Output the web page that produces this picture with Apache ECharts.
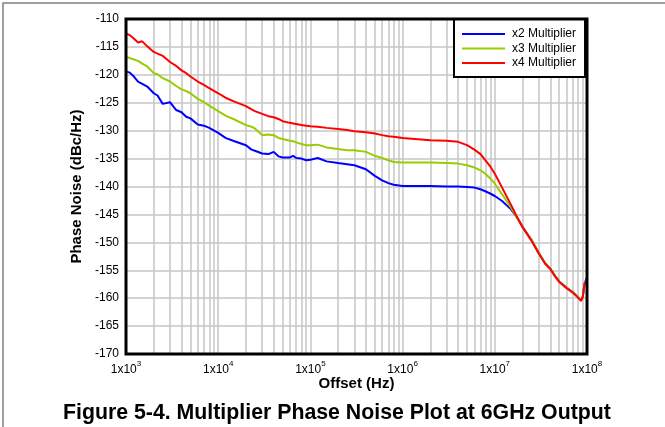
<!DOCTYPE html>
<html>
<head>
<meta charset="utf-8">
<script src="https://cdn.jsdelivr.net/npm/echarts@6/dist/echarts.min.js"></script>
<style>html,body{margin:0;padding:0;background:#fff}#main{width:665px;height:427px}</style>
</head>
<body>
<div id="main"></div>
<script>
// offset frequencies (Hz), shared by the three traces
var freqs = [1000, 1100, 1200, 1350, 1500, 1700, 2000, 2200, 2500, 3000, 3500, 4000, 4500, 5000, 6000, 7000, 8000,
  10000, 12000, 15000, 20000, 23000, 25000, 30000, 35000, 40000, 45000, 50000, 60000, 65000, 70000, 80000, 90000,
  100000, 120000, 150000, 200000, 250000, 300000, 400000, 500000, 600000, 700000, 800000,
  1e6, 2e6, 3e6, 4e6, 5e6, 6e6, 7e6, 8e6, 9e6,
  1e7, 1.2e7, 1.5e7, 1.7e7, 2e7, 2.5e7, 3e7, 3.5e7, 4e7, 4.5e7, 5e7, 6e7, 7e7, 8e7, 8.6e7, 9e7, 9.4e7, 1e8];

var x2Noise = [-119.4, -119.6, -120.2, -121.2, -121.6, -122.1, -123.3, -123.7, -125.2, -124.9, -126.3, -126.7, -127.5, -127.8, -128.9, -129.1, -129.5,
  -130.4, -131.3, -131.9, -132.6, -133.4, -133.6, -134.1, -134.2, -133.8, -134.6, -134.8, -134.8, -134.5, -134.9, -135.0, -135.3,
  -135.2, -134.9, -135.5, -135.8, -136.0, -136.2, -136.9, -138.1, -138.9, -139.4, -139.7,
  -139.9, -139.9, -140.0, -140.0, -140.1, -140.2, -140.5, -140.9, -141.3,
  -141.7, -142.6, -144.1, -145.3, -147.2, -149.6, -151.9, -153.7, -154.7, -156.0, -157.0, -158.1, -158.9, -159.8, -160.4, -159.7, -157.4, -156.3];

var x3Noise = [-116.8, -117.0, -117.2, -117.5, -118.0, -118.5, -119.7, -119.9, -120.6, -121.2, -122.0, -122.6, -122.9, -123.3, -124.3, -124.9, -125.5,
  -126.5, -127.3, -128.0, -129.0, -129.3, -129.6, -130.8, -130.7, -130.8, -131.3, -131.5, -131.8, -131.9, -132.1, -132.4, -132.6,
  -132.6, -132.5, -133.0, -133.3, -133.5, -133.5, -133.8, -134.5, -134.9, -135.3, -135.6,
  -135.7, -135.7, -135.8, -135.9, -136.2, -136.6, -137.1, -137.8, -138.6,
  -139.5, -141.4, -143.8, -145.3, -147.3, -149.6, -151.9, -153.7, -154.7, -156.0, -157.0, -158.1, -158.9, -159.8, -160.4, -159.7, -157.4, -156.8];

var x4Noise = [-112.6, -112.9, -113.4, -114.2, -114.0, -114.9, -115.9, -116.2, -116.6, -117.7, -118.4, -119.2, -119.7, -120.3, -121.2, -121.8, -122.4,
  -123.3, -124.1, -124.8, -125.6, -126.2, -126.5, -127.0, -127.4, -127.6, -127.9, -128.3, -128.6, -128.7, -128.8, -129.0, -129.1,
  -129.2, -129.3, -129.5, -129.7, -129.9, -130.1, -130.3, -130.5, -130.8, -131.0, -131.1,
  -131.3, -131.7, -131.8, -132.0, -132.6, -133.4, -134.2, -135.4, -136.5,
  -137.7, -140.2, -143.3, -145.1, -147.3, -149.7, -152.0, -153.8, -154.8, -156.1, -157.1, -158.2, -159.0, -159.9, -160.5, -159.8, -157.5, -156.9];

var seriesNames = ['x2 Multiplier', 'x3 Multiplier', 'x4 Multiplier'];
var seriesColors = ['#0000ff', '#99cc00', '#ff0000'];
var seriesValues = [x2Noise, x3Noise, x4Noise];

var yMin = -170, yMax = -110, yStep = 5;
var xMin = 1e3, xMax = 1e8;

// log grid lines between the decades
var minorLines = [];
for (var d = 3; d < 8; d++) {
  for (var m = 2; m <= 9; m++) minorLines.push({ xAxis: m * Math.pow(10, d) });
}

var font = '"Liberation Sans", Arial, sans-serif';
var gridGray = '#c6c6c6';

var myChart = echarts.init(document.getElementById('main'));

var series = [{
  name: 'minor',
  type: 'line',
  data: [],
  z: 1,
  silent: true,
  markLine: {
    silent: true,
    z: 1,
    symbol: ['none', 'none'],
    label: { show: false },
    lineStyle: { color: gridGray, width: 1.5, type: 'solid' },
    emphasis: { disabled: true },
    animation: false,
    data: minorLines
  }
}];
for (var i = 0; i < seriesNames.length; i++) {
  series.push({
    name: seriesNames[i],
    type: 'line',
    symbol: 'none',
    color: seriesColors[i],
    lineStyle: { width: 2, color: seriesColors[i] },
    z: 2,
    data: freqs.map(function (f, k) { return [f, this[k]]; }, seriesValues[i])
  });
}

option = {
  animation: false,
  textStyle: { fontFamily: font },
  title: {
    text: 'Figure 5-4. Multiplier Phase Noise Plot at 6GHz Output',
    left: 63,
    top: 403,
    padding: 0,
    textStyle: { fontSize: 21.3, fontWeight: 'bold', color: '#000', fontFamily: font }
  },
  graphic: [{
    type: 'polyline',
    silent: true,
    shape: { points: [[3, 427], [3, 3], [665, 3]] },
    style: { stroke: '#808080', lineWidth: 1.5, fill: null }
  }],
  legend: {
    data: seriesNames,
    orient: 'vertical',
    left: 454,
    top: 19,
    padding: [8, 9, 7, 8],
    itemWidth: 43,
    itemHeight: 2,
    itemGap: 0.5,
    icon: 'rect',
    backgroundColor: '#fff',
    borderColor: '#000',
    borderWidth: 2,
    borderRadius: 0,
    textStyle: { fontSize: 12, color: '#000', lineHeight: 14, fontFamily: font, padding: [0, 0, 0, 2] }
  },
  grid: {
    show: true,
    left: 126,
    right: 78,
    top: 19,
    bottom: 73,
    borderColor: '#000',
    borderWidth: 3,
    backgroundColor: 'transparent',
    z: 10
  },
  xAxis: {
    type: 'log',
    logBase: 10,
    min: xMin,
    max: xMax,
    name: 'Offset (Hz)',
    nameLocation: 'middle',
    nameGap: 22,
    nameMoveOverlap: false,
    nameTextStyle: { fontSize: 15, fontWeight: 'bold', color: '#000', fontFamily: font },
    axisLine: { show: false },
    axisTick: { show: false },
    splitLine: { show: true, showMinLine: false, showMaxLine: false, lineStyle: { color: gridGray, width: 1.5 } },
    axisLabel: {
      margin: 6,
      formatter: function (v) {
        return '{b|1x10}{s|' + Math.round(Math.log10(v)) + '}';
      },
      rich: {
        b: { fontSize: 12, color: '#000', fontFamily: font, verticalAlign: 'bottom', lineHeight: 16 },
        s: { fontSize: 8, color: '#000', fontFamily: font, verticalAlign: 'top', lineHeight: 9 }
      }
    }
  },
  yAxis: {
    type: 'value',
    min: yMin,
    max: yMax,
    interval: yStep,
    name: 'Phase Noise (dBc/Hz)',
    nameLocation: 'middle',
    nameGap: 41,
    nameTextStyle: { fontSize: 15, fontWeight: 'bold', color: '#000', fontFamily: font },
    axisLine: { show: false },
    axisTick: { show: false },
    splitLine: { show: true, showMinLine: false, showMaxLine: false, lineStyle: { color: gridGray, width: 1.5 } },
    axisLabel: { margin: 7, fontSize: 12, color: '#000', fontFamily: font }
  },
  series: series
};
myChart.setOption(option);
</script>
</body>
</html>
